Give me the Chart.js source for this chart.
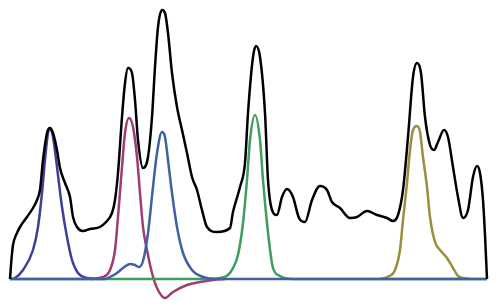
<!DOCTYPE html>
<html>
<head>
<meta charset="utf-8">
<script src="https://cdn.jsdelivr.net/npm/chart.js@4/dist/chart.umd.min.js"></script>
<style>
  html, body { margin: 0; padding: 0; background: #fff; }
  canvas { display: block; }
</style>
</head>
<body>
<canvas id="spectrumChart" width="498" height="308"></canvas>
<script>
// position / intensity pairs (arbitrary units)
const totalX = [0, 1.5, 3, 7, 10, 17, 23, 27, 30, 33, 37, 40, 43, 47, 50, 55, 60, 63, 67, 73, 80, 90, 95, 102, 105, 108, 112, 115, 118, 122, 125, 128, 133, 138, 142, 145, 148, 152, 155, 158, 162, 167, 172, 177, 182, 187, 192, 197, 207, 220, 223, 230, 235, 238, 243, 246, 250, 255, 258, 262, 267, 272, 277, 283, 289, 295, 302, 310, 317, 322, 330, 340, 347, 357, 367, 377, 383, 388, 393, 398, 403, 407, 411, 415, 420, 424, 428, 434, 438, 443, 448, 453, 458, 463, 467, 470, 473, 475, 477];
const totalY = [0, 20, 34, 46, 52, 62, 71, 79, 89, 119, 146, 151, 146, 129, 111, 96, 82, 62, 52, 48, 50, 52, 56, 66, 79, 106, 162, 196, 211, 206, 179, 139, 111, 122, 162, 212, 252, 269, 266, 246, 206, 172, 149, 126, 102, 89, 69, 52, 47, 51, 67, 92, 116, 166, 222, 233, 222, 166, 99, 69, 64, 82, 90, 82, 61, 57, 79, 93, 89, 77, 71, 61, 62, 68, 64, 61, 58, 64, 89, 142, 202, 216, 206, 162, 134, 129, 137, 149, 142, 112, 82, 61, 69, 102, 113, 106, 79, 44, 0];

const indigoX = [0, 5, 13, 23, 28, 32, 35, 38, 40, 43, 47, 52, 57, 62, 68, 77, 90];
const indigoY = [0, 1, 9, 29, 52, 86, 119, 146, 150, 142, 112, 72, 42, 19, 6, 1, 0];

const magentaX = [80, 93, 100, 105, 108, 112, 115, 119, 123, 127, 130, 133, 137, 142, 147, 155, 163, 177, 190, 203, 215];
const magentaY = [0, 2, 9, 29, 62, 112, 146, 161, 152, 122, 86, 52, 29, 6, -9, -19, -13, -6, -3, -1, 0];

const blueX = [0, 95, 100, 107, 113, 120, 125, 129, 133, 138, 143, 147, 152, 155, 158, 162, 167, 173, 182, 193, 207, 477];
const blueY = [0, 0, 2, 6, 11, 15, 14, 12, 18, 46, 92, 126, 147, 142, 119, 86, 52, 26, 9, 2, 0, 0];

const greenX = [0, 200, 210, 218, 223, 228, 233, 237, 240, 245, 250, 253, 257, 261, 263, 270, 283, 477];
const greenY = [0, 0, 1, 4, 11, 24, 56, 99, 139, 164, 139, 99, 56, 22, 11, 3, 0, 0];

const oliveX = [370, 377, 385, 390, 393, 397, 400, 403, 407, 410, 413, 417, 420, 425, 430, 437, 443, 448, 453, 460];
const oliveY = [0, 2, 9, 29, 59, 96, 129, 149, 153, 147, 122, 92, 62, 37, 29, 21, 11, 3, 1, 0];

function pairs(xs, ys) {
  return xs.map((x, i) => ({ x, y: ys[i] }));
}

function line(data, color) {
  return {
    data,
    borderColor: color,
    borderWidth: 2.5,
    pointRadius: 0,
    fill: false,
    cubicInterpolationMode: 'monotone'
  };
}

const ctx = document.getElementById('spectrumChart').getContext('2d');
new Chart(ctx, {
  type: 'line',
  data: {
    datasets: [
      line(pairs(totalX, totalY), '#000000'),
      line(pairs(blueX, blueY), '#4062a4'),
      line(pairs(greenX, greenY), '#3e9e5e'),
      line(pairs(magentaX, magentaY), '#a03c74'),
      line(pairs(indigoX, indigoY), '#3f3f9b'),
      line(pairs(oliveX, oliveY), '#9b8e3c')
    ]
  },
  options: {
    responsive: false,
    animation: false,
    layout: { padding: 0 },
    plugins: {
      legend: { display: false },
      tooltip: { enabled: false }
    },
    scales: {
      x: { type: 'linear', display: false, min: -10, max: 488 },
      y: { display: false, min: -29, max: 279 }
    }
  }
});
</script>
</body>
</html>
